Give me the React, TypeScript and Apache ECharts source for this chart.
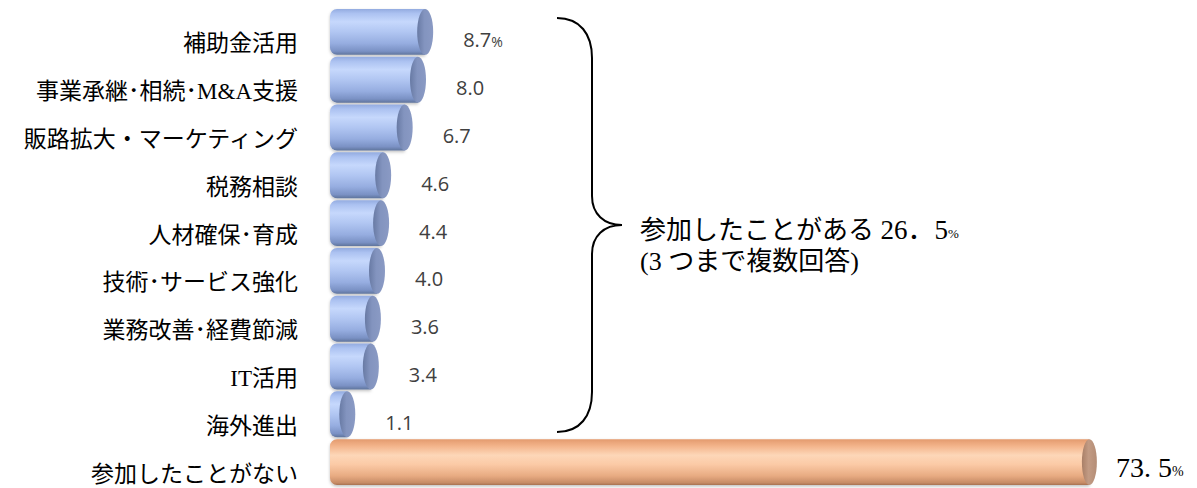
import React, { useEffect, useRef } from "react";
import * as echarts from "echarts";

const categories = [
  "補助金活用",
  "事業承継･相続･M&A支援",
  "販路拡大・マーケティング",
  "税務相談",
  "人材確保･育成",
  "技術･サービス強化",
  "業務改善･経費節減",
  "IT活用",
  "海外進出",
  "参加したことがない",
];
const values = [8.7, 8.0, 6.7, 4.6, 4.4, 4.0, 3.6, 3.4, 1.1, 73.5];
const valueLabels = ["8.7", "8.0", "6.7", "4.6", "4.4", "4.0", "3.6", "3.4", "1.1", "73. 5"];
const groupLine1 = "参加したことがある ";
const groupValue = "26．5";
const groupLine2 = "(3 つまで複数回答)";

const braceD =
  "M557,18 C580,18 592,34 592,58 L592,196 C592,214 604,225 622,225 C604,225 592,236 592,254 L592,392 C592,416 580,432 557,432";
echarts.graphic.registerShape("brace", echarts.graphic.extendPath(braceD, {}));

const SERIF = '"Liberation Serif", "Noto Sans CJK JP", serif';
const SANS = '"Open Sans", "Noto Sans", sans-serif';

const blueBody = {
  type: "linear", x: 0, y: 0, x2: 0, y2: 1,
  colorStops: [
    { offset: 0, color: "#93abe0" },
    { offset: 0.1, color: "#acc2f1" },
    { offset: 0.28, color: "#c6d8fc" },
    { offset: 0.5, color: "#b1c6f2" },
    { offset: 0.75, color: "#96ade0" },
    { offset: 0.92, color: "#7a91c4" },
    { offset: 1, color: "#5f749c" },
  ],
};
const blueCap = {
  type: "linear", x: 0, y: 0, x2: 1, y2: 0,
  colorStops: [
    { offset: 0, color: "#687aa4" },
    { offset: 0.45, color: "#8394bf" },
    { offset: 1, color: "#8a9ac4" },
  ],
};
const orangeBody = {
  type: "linear", x: 0, y: 0, x2: 0, y2: 1,
  colorStops: [
    { offset: 0, color: "#e39a6d" },
    { offset: 0.15, color: "#f3b48b" },
    { offset: 0.35, color: "#fdd7b8" },
    { offset: 0.55, color: "#fbcaa6" },
    { offset: 0.8, color: "#e8ab82" },
    { offset: 0.95, color: "#c78c66" },
    { offset: 1, color: "#a67151" },
  ],
};
const orangeCap = {
  type: "linear", x: 0, y: 0, x2: 1, y2: 0,
  colorStops: [
    { offset: 0, color: "#a97f67" },
    { offset: 0.45, color: "#c29b84" },
    { offset: 1, color: "#b48d76" },
  ],
};

export default function App() {
  const ref = useRef<HTMLDivElement>(null);
  useEffect(() => {
    if (!ref.current) return;
    const chart = echarts.init(ref.current, null, { renderer: "svg" });
    const last = values.length - 1;
    chart.setOption({
      animation: false,
      grid: { left: 336, right: 41, top: 8, bottom: 2, containLabel: false },
      xAxis: { type: "value", min: 0, max: 80, show: false },
      yAxis: {
        type: "category",
        data: categories,
        inverse: true,
        axisLine: { show: false },
        axisTick: { show: false },
        splitLine: { show: false },
        axisLabel: {
          margin: 38,
          color: "#000",
          fontSize: 23,
          fontFamily: SERIF,
          verticalAlign: "top",
          lineHeight: 24,
        },
      },
      series: [
        {
          type: "custom",
          encode: { x: 0, y: 1 },
          data: values.map((v, i) => [v, i]),
          renderItem: (params: any, api: any) => {
            const v = api.value(0);
            const i = api.value(1);
            const [xe, yc] = api.coord([v, i]);
            const [x0] = api.coord([0, i]);
            const band = api.size([0, 1])[1];
            const h = band * 0.96;
            const isOrange = i === last;
            const rx = isOrange ? 7.5 : 8;
            const left = x0 - 6;
            const children: any[] = [
              {
                type: "rect",
                shape: { x: left, y: yc - h / 2, width: xe - left, height: h, r: [7, 0, 0, 7] },
                style: {
                  fill: isOrange ? orangeBody : blueBody,
                  shadowBlur: 3,
                  shadowOffsetY: 1.5,
                  shadowColor: "rgba(0,0,0,0.25)",
                },
              },
              {
                type: "ellipse",
                shape: { cx: xe, cy: yc, rx, ry: h / 2 },
                style: { fill: isOrange ? orangeCap : blueCap },
              },
            ];
            const lbl = valueLabels[i];
            if (isOrange) {
              children.push({
                type: "text",
                x: xe + rx + 19,
                y: yc + 5,
                style: {
                  text: `{n|${lbl}}{p|%}`,
                  verticalAlign: "middle",
                  align: "left",
                  rich: {
                    n: { fontSize: 28, fontFamily: SERIF, fill: "#000" },
                    p: { fontSize: 14, fontFamily: SERIF, fill: "#000", padding: [8, 0, 0, 0] },
                  },
                },
              });
            } else {
              children.push({
                type: "text",
                x: xe + rx + 30,
                y: yc + 8,
                style: {
                  text: i === 0 ? `{n|${lbl}}{p|%}` : `{n|${lbl}}`,
                  verticalAlign: "middle",
                  align: "left",
                  rich: {
                    n: { fontSize: 20, fontFamily: SANS, fill: "#404040" },
                    p: { fontSize: 14, fontFamily: SANS, fill: "#404040", padding: [3, 0, 0, 0] },
                  },
                },
              });
            }
            return { type: "group", children };
          },
        },
      ],
      graphic: [
        {
          type: "brace",
          x: 0,
          y: 0,
          style: { fill: "none", stroke: "#000", lineWidth: 2 },
        },
        {
          type: "text",
          x: 640,
          y: 230,
          style: {
            text: `{t|${groupLine1}}{n|${groupValue}}{p|%}`,
            verticalAlign: "middle",
            align: "left",
            rich: {
              t: { fontSize: 26, fontFamily: SERIF, fill: "#000" },
              n: { fontSize: 27, fontFamily: SERIF, fill: "#000" },
              p: { fontSize: 13, fontFamily: SERIF, fill: "#000", padding: [7, 0, 0, 0] },
            },
          },
        },
        {
          type: "text",
          x: 640,
          y: 261,
          style: {
            text: groupLine2,
            verticalAlign: "middle",
            align: "left",
            fontSize: 26,
            fontFamily: SERIF,
            fill: "#000",
          },
        },
      ],
    });
    return () => chart.dispose();
  }, []);
  return (
    <div
      ref={ref}
      style={{ position: "absolute", left: 0, top: 0, width: 1197, height: 488 }}
    />
  );
}
